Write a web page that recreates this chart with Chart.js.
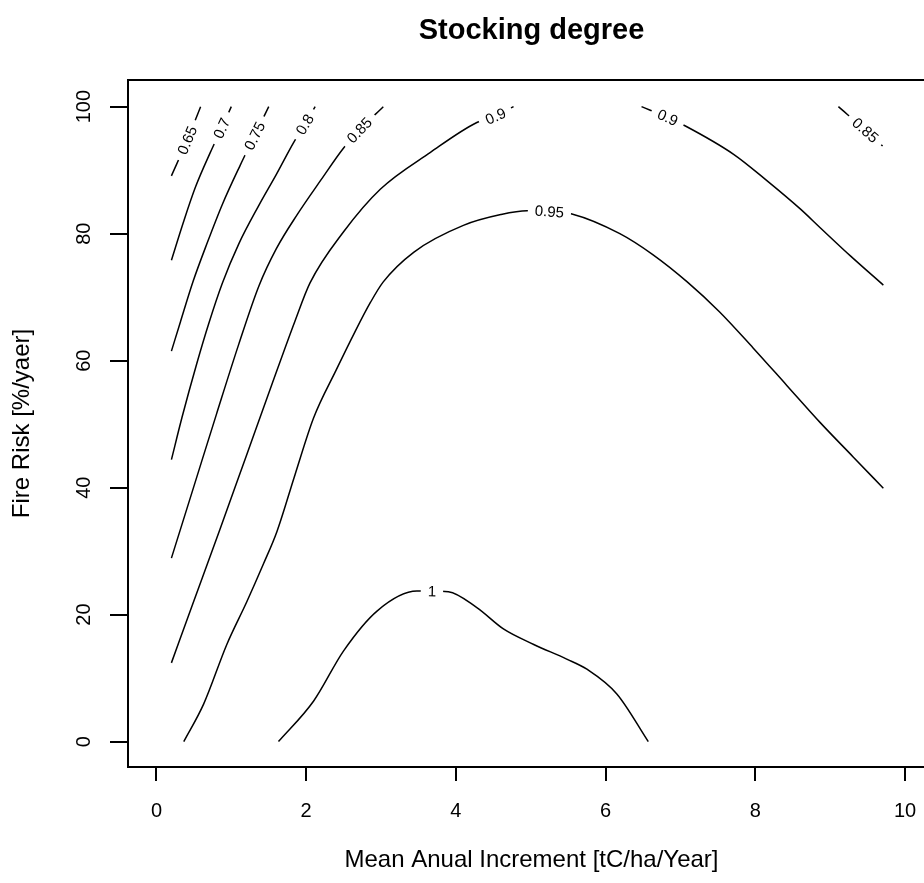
<!DOCTYPE html>
<html>
<head>
<meta charset="utf-8">
<title>Stocking degree</title>
<script src="https://cdn.jsdelivr.net/npm/chart.js@4.4.1/dist/chart.umd.min.js"></script>
<style>
    html, body { margin: 0; padding: 0; background: #fff; overflow: hidden; }
    #wrap { width: 950px; height: 883px; }
</style>
</head>
<body>
<div id="wrap"><canvas id="contourChart" width="950" height="883"></canvas></div>
<script>
// Stocking degree contours.
// x = mean annual increment, y = fire risk; one polyline per level.

const xTickValues = [0, 2, 4, 6, 8, 10];
const yTickValues = [0, 20, 40, 60, 80, 100];

const levelNames = ['0.65', '0.7', '0.75', '0.8', '0.85', '0.9', '0.95', '0.9', '0.85', '1'];

const lvl065X = [0.2, 0.41, 0.59];
const lvl065Y = [89.1, 94.7, 100];

const lvl070X = [0.2, 0.36, 0.52, 0.72, 0.87, 1.0];
const lvl070Y = [75.8, 81.8, 87.3, 92.8, 96.6, 100];

const lvl075X = [0.2, 0.32, 0.49, 0.68, 0.88, 1.12, 1.31, 1.5];
const lvl075Y = [61.5, 66.1, 72.5, 78.6, 84.6, 90.8, 95.4, 100];

const lvl080X = [0.2, 0.34, 0.54, 0.70, 0.88, 1.1, 1.37, 1.6, 1.83, 1.98, 2.12];
const lvl080Y = [44.4, 51.0, 59.6, 65.9, 72.2, 78.4, 84.5, 89.3, 94.3, 97.2, 100];

const lvl085X = [0.2, 0.5, 0.8, 1.1, 1.37, 1.6, 1.88, 2.2, 2.5, 2.71, 3.03];
const lvl085Y = [28.9, 40.2, 51.5, 62.6, 71.8, 77.6, 83.0, 88.5, 93.5, 96.3, 100];

const lvl090X = [0.2, 0.48, 0.85, 1.2, 1.55, 1.85, 2.05, 2.5, 2.99, 3.66, 4.28, 4.53, 4.77];
const lvl090Y = [12.4, 21.5, 33.5, 45.0, 56.5, 66.2, 72.2, 80.3, 87.0, 92.8, 97.5, 98.5, 100];

const lvl095X = [0.365, 0.63, 0.94, 1.21, 1.43, 1.61, 1.85, 2.1, 2.4, 2.65, 2.86, 3.03, 3.44, 4.1, 4.6, 4.95, 5.25, 5.55, 6.19, 6.63, 7.09, 7.52, 7.97, 8.42, 8.87, 9.31, 9.71];
const lvl095Y = [0, 5.9, 15.3, 22.1, 28.0, 33.1, 42.0, 51.0, 58.5, 64.5, 69.2, 72.4, 77.1, 81.3, 83.0, 83.6, 83.5, 83.1, 80.0, 76.7, 72.4, 67.7, 62.0, 56.1, 50.2, 44.8, 39.9];

const lvl090RX = [6.48, 6.83, 7.06, 7.71, 8.15, 8.6, 8.87, 9.27, 9.71];
const lvl090RY = [100, 98.3, 97.0, 92.5, 88.4, 83.9, 80.9, 76.5, 71.9];

const lvl085RX = [9.11, 9.47, 9.7];
const lvl085RY = [100, 96.3, 93.8];

const lvl100X = [1.63, 2.1, 2.5, 2.95, 3.48, 3.68, 3.9, 4.28, 4.64, 5.04, 5.48, 5.75, 6.15, 6.57];
const lvl100Y = [0, 6.4, 14.3, 20.6, 23.7, 23.7, 23.6, 21.1, 17.7, 15.3, 13.0, 11.4, 7.5, 0];

// where each level's label sits along its line (x value)
const labelAtX = [0.41, 0.87, 1.31, 1.98, 2.71, 4.53, 5.25, 6.83, 9.47, 3.68];

const lineXs = [lvl065X, lvl070X, lvl075X, lvl080X, lvl085X, lvl090X, lvl095X, lvl090RX, lvl085RX, lvl100X];
const lineYs = [lvl065Y, lvl070Y, lvl075Y, lvl080Y, lvl085Y, lvl090Y, lvl095Y, lvl090RY, lvl085RY, lvl100Y];

const FONT = '"Liberation Sans", Arial, Helvetica, sans-serif';

// contour labels: white gap plus text turned along the line
const contourLabels = {
    id: 'contourLabels',
    afterDatasetsDraw(chart) {
        const ctx = chart.ctx;
        const sx = chart.scales.x;
        const sy = chart.scales.y;
        ctx.save();
        ctx.font = '15px ' + FONT;
        ctx.textAlign = 'center';
        ctx.textBaseline = 'middle';
        chart.data.datasets.forEach(ds => {
            const pts = ds.data;
            let k = 0;
            pts.forEach((p, i) => {
                if (Math.abs(p.x - ds.labelAt) < Math.abs(pts[k].x - ds.labelAt)) k = i;
            });
            const a = pts[Math.max(k - 1, 0)];
            const b = pts[Math.min(k + 1, pts.length - 1)];
            let ang = Math.atan2(
                sy.getPixelForValue(b.y) - sy.getPixelForValue(a.y),
                sx.getPixelForValue(b.x) - sx.getPixelForValue(a.x)
            );
            if (ang > Math.PI / 2) ang -= Math.PI;
            if (ang < -Math.PI / 2) ang += Math.PI;
            const w = ctx.measureText(ds.label).width;
            ctx.save();
            ctx.translate(sx.getPixelForValue(pts[k].x), sy.getPixelForValue(pts[k].y));
            ctx.rotate(ang);
            ctx.fillStyle = '#fff';
            ctx.fillRect(-w / 2 - 7, -8, w + 14, 16);
            ctx.fillStyle = '#000';
            ctx.fillText(ds.label, 0, 1);
            ctx.restore();
        });
        ctx.restore();
    }
};

const plotBox = {
    id: 'plotBox',
    afterDraw(chart) {
        const { left, top, right, bottom } = chart.chartArea;
        const ctx = chart.ctx;
        ctx.save();
        ctx.strokeStyle = '#000';
        ctx.lineWidth = 2;
        ctx.strokeRect(left, top, right - left, bottom - top);
        ctx.restore();
    }
};

const datasets = levelNames.map((name, i) => ({
    label: name,
    labelAt: labelAtX[i],
    data: lineXs[i].map((x, j) => ({ x: x, y: lineYs[i][j] })),
    showLine: true,
    pointRadius: 0,
    borderColor: '#000',
    borderWidth: 1.5,
    fill: false,
    cubicInterpolationMode: 'monotone'
}));

new Chart(document.getElementById('contourChart'), {
    type: 'scatter',
    data: { datasets },
    options: {
        responsive: false,
        animation: false,
        events: [],
        layout: { padding: { left: 0, right: 15, top: 0, bottom: 0 } },
        plugins: {
            legend: { display: false },
            tooltip: { enabled: false },
            title: {
                display: true,
                text: 'Stocking degree',
                fullSize: false,
                color: '#000',
                font: { family: FONT, size: 29, weight: 'bold' },
                padding: { top: 14, bottom: 31.2 }
            }
        },
        scales: {
            x: {
                type: 'linear',
                position: 'bottom',
                min: -0.38,
                max: 10.4,
                afterBuildTicks: s => { s.ticks = xTickValues.map(v => ({ value: v })); },
                afterFit: s => { s.height = 116; },
                grid: { display: true, drawOnChartArea: false, drawTicks: true, tickLength: 14, color: '#000', lineWidth: 2 },
                border: { display: true, color: '#000', width: 2 },
                ticks: { color: '#000', font: { family: FONT, size: 20 }, padding: 18, maxRotation: 0, autoSkip: false },
                title: {
                    display: true,
                    text: 'Mean Anual Increment [tC/ha/Year]',
                    color: '#000',
                    font: { family: FONT, size: 24 },
                    padding: { top: 0, bottom: 8.6 }
                }
            },
            y: {
                type: 'linear',
                position: 'left',
                min: -4,
                max: 104.2,
                afterBuildTicks: s => { s.ticks = yTickValues.map(v => ({ value: v })); },
                afterFit: s => { s.width = 128; },
                grid: { display: true, drawOnChartArea: false, drawTicks: true, tickLength: 18, color: '#000', lineWidth: 2 },
                border: { display: true, color: '#000', width: 2 },
                ticks: { color: '#000', font: { family: FONT, size: 20 }, padding: 9, minRotation: 90, maxRotation: 90, crossAlign: 'center', autoSkip: false },
                title: {
                    display: true,
                    text: 'Fire Risk [%/yaer]',
                    color: '#000',
                    font: { family: FONT, size: 24 },
                    padding: { top: 7.6, bottom: 0 }
                }
            }
        }
    },
    plugins: [contourLabels, plotBox]
});
</script>
</body>
</html>
